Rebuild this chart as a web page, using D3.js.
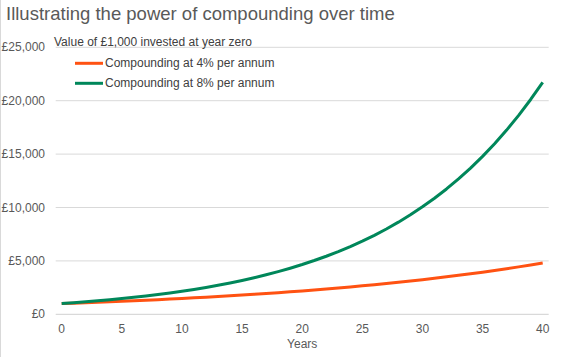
<!DOCTYPE html>
<html><head><meta charset="utf-8">
<script src="https://cdn.jsdelivr.net/npm/d3@7"></script>
<style>body{margin:0;background:#fff}svg{display:block;font-family:"Liberation Sans",Arial,sans-serif}</style>
</head><body>
<svg id="c" width="567" height="357"></svg>
<script>
const years = d3.range(0, 41);
const yTicks = [0, 5000, 10000, 15000, 20000, 25000];
const xTicks = [0, 5, 10, 15, 20, 25, 30, 35, 40];
const seriesNames = ["Compounding at 4% per annum", "Compounding at 8% per annum"];
const seriesColors = ["#FF5212", "#00875A"];
const values4 = [1000,1040,1082,1125,1170,1217,1265,1316,1369,1423,1480,1539,1601,1665,1732,1801,1873,1948,2026,2107,2191,2279,2370,2465,2563,2666,2772,2883,2999,3119,3243,3373,3508,3648,3794,3946,4104,4268,4439,4616,4801];
const values8 = [1000,1080,1166,1260,1360,1469,1587,1714,1851,1999,2159,2332,2518,2720,2937,3172,3426,3700,3996,4316,4661,5034,5437,5871,6341,6848,7396,7988,8627,9317,10063,10868,11737,12676,13690,14785,15968,17246,18625,20115,21725];
const series = [values4, values8];

const svg = d3.select("#c");
const x = d3.scaleLinear().domain([0, 40]).range([61.7, 542.7]);
const y = d3.scaleLinear().domain([0, 25000]).range([314.3, 47.3]);
const step = x(1) - x(0);
const gx0 = x(0) - step / 2, gx1 = x(40) + step / 2;

svg.append("line").attr("x1", 0.5).attr("x2", 0.5).attr("y1", 0).attr("y2", 357).attr("stroke", "#d9d9d9");

svg.append("text").attr("x", 6).attr("y", 20).attr("font-size", 18.5).attr("fill", "#595959")
  .text("Illustrating the power of compounding over time");

// gridlines
svg.append("g").selectAll("line").data(yTicks).join("line")
  .attr("x1", gx0).attr("x2", gx1).attr("y1", d => y(d)).attr("y2", d => y(d))
  .attr("stroke", d => d === 0 ? "#d0d0d0" : "#d9d9d9").attr("stroke-width", 1);

// y labels
svg.append("g").selectAll("text").data(yTicks).join("text")
  .attr("x", 45).attr("y", d => y(d) + 4).attr("text-anchor", "end")
  .attr("font-size", 12).attr("fill", "#595959")
  .text(d => "£" + d3.format(",")(d));

// x labels
svg.append("g").selectAll("text").data(xTicks).join("text")
  .attr("x", d => x(d)).attr("y", 333).attr("text-anchor", "middle")
  .attr("font-size", 12).attr("fill", "#595959").text(d => d);

svg.append("text").attr("x", (gx0 + gx1) / 2).attr("y", 348).attr("text-anchor", "middle")
  .attr("font-size", 12).attr("fill", "#595959").text("Years");

svg.append("text").attr("x", 54).attr("y", 46).attr("font-size", 12).attr("fill", "#404040")
  .text("Value of £1,000 invested at year zero");

// lines
const line = d3.line().x((d, i) => x(years[i])).y(d => y(d));
svg.append("g").selectAll("path").data(series).join("path")
  .attr("d", d => line(d)).attr("fill", "none")
  .attr("stroke", (d, i) => seriesColors[i]).attr("stroke-width", 3)
  .attr("stroke-linejoin", "round");

// legend
const lg = svg.append("g").selectAll("g").data(seriesNames).join("g")
  .attr("transform", (d, i) => `translate(0,${63.3 + i * 20})`);
lg.append("line").attr("x1", 75).attr("x2", 103).attr("stroke", (d, i) => seriesColors[i]).attr("stroke-width", 3);
lg.append("text").attr("x", 105).attr("y", 4).attr("font-size", 12).attr("fill", "#404040").text(d => d);
</script>
</body></html>
